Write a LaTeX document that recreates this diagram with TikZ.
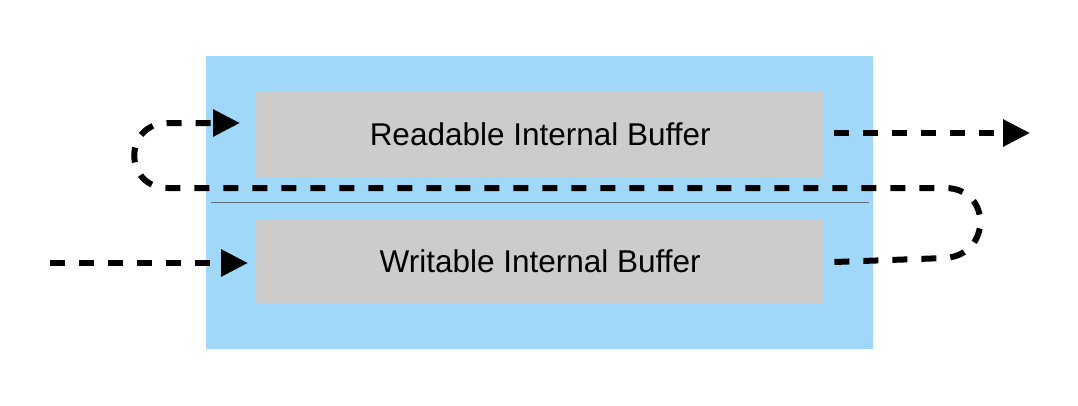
\documentclass[tikz,border=0pt]{standalone}
\usepackage{fontspec}
\setmainfont{Liberation Sans}
\usetikzlibrary{arrows.meta}
\definecolor{bluebg}{RGB}{160,216,250}
\definecolor{bufgray}{RGB}{204,204,204}
\tikzset{
  panel/.style={fill=bluebg, draw=none, inner sep=0pt, anchor=north west},
  buf/.style={fill=bufgray, draw=none, inner sep=0pt, anchor=north west,
    minimum width=568pt, minimum height=85pt, font=\fontsize{31.5pt}{36pt}\selectfont},
  sep/.style={line width=0.6pt, draw={rgb,255:red,90;green,110;blue,125}},
  flow/.style={line width=6pt, dash pattern=on 15pt off 14pt,
    -{Triangle[length=27pt,width=26pt]}}
}
\begin{document}
\begin{tikzpicture}[x=1pt,y=-1pt]
\useasboundingbox (0,0) rectangle (1078,405);
\node[panel, minimum width=667pt, minimum height=293pt] (outer) at (206,56) {};
\node[buf] (rd) at (256,92) {Readable Internal Buffer};
\node[buf, minimum height=83pt] (wr) at (256,220) {Writable Internal Buffer};
\coordinate (sepL) at (211,202);
\coordinate (sepR) at (869,202);
\draw[sep] (sepL) -- (sepR);
% input arrow
\coordinate (inL) at (50,263);
\draw[flow, shorten >=8pt] (inL) -- (wr.west |- inL);
% output arrow
\coordinate (outR) at (1030,133);
\draw[flow] ([xshift=10pt]rd.east |- outR) -- (outR);
% loop from writable back to readable
\coordinate (r1) at (945,258);
\coordinate (r2) at (945,188);
\coordinate (l1) at (168,188);
\coordinate (l2) at (168,123);
\draw[flow, shorten >=16pt] ([xshift=10pt]wr.east |- 0,262) -- (r1)
  .. controls (992,255) and (992,188) .. (r2) -- (l1)
  .. controls (123,188) and (123,123) .. (l2) -- (rd.west |- l2);
\end{tikzpicture}
\end{document}
